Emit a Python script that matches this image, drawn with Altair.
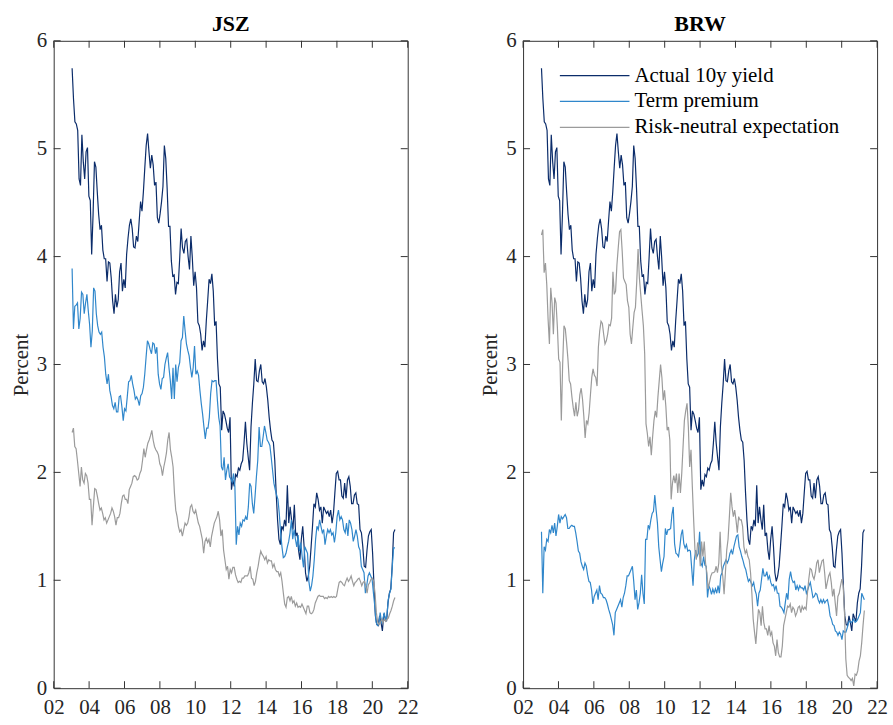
import altair as alt
import pandas as pd
import numpy as np

# ---------------- data ----------------
series_names = ["Actual 10y yield", "Term premium", "Risk-neutral expectation"]
series_colors = ["#0b2c6a", "#3087cb", "#9b9b9b"]

t_start = 2003.04
t_end = 2021.28

actual_yield = [5.745,5.46,5.25,5.23,5.17,4.72,4.66,5.13,4.88,4.72,4.97,5.01,4.56,4.52,4.02,4.39,4.88,4.83,4.60,4.39,4.25,4.29,4.06,3.98,3.98,3.77,3.95,3.94,3.80,3.59,3.47,3.65,3.53,3.60,3.86,3.94,3.68,3.79,3.71,4.02,4.17,4.29,4.35,4.26,4.09,4.08,4.19,4.14,4.33,4.51,4.42,4.60,4.82,5.03,5.14,4.97,4.82,4.94,4.85,4.66,4.69,4.36,4.31,4.40,4.51,4.65,5.03,4.91,4.63,4.28,4.28,3.96,3.82,3.83,3.65,3.76,3.75,3.99,4.26,4.08,4.03,4.14,4.16,4.00,3.88,4.19,3.99,3.73,3.86,3.71,3.39,3.36,3.28,3.13,3.22,3.16,3.40,3.59,3.79,3.75,3.84,3.68,3.36,3.40,3.05,2.82,2.79,2.39,2.57,2.54,2.48,2.41,2.37,2.51,1.84,1.93,1.87,1.98,1.96,2.04,2.02,2.08,2.11,2.27,2.47,2.27,2.14,2.02,2.42,2.64,2.82,3.05,2.85,2.84,2.94,3.00,2.84,2.82,2.87,2.79,2.67,2.51,2.39,2.30,2.28,2.11,1.81,1.56,1.38,1.33,1.50,1.47,1.56,1.50,1.88,1.53,1.68,1.56,1.47,1.70,1.41,1.44,1.28,1.19,1.38,1.50,1.31,1.07,0.99,1.04,1.13,1.31,1.50,1.71,1.68,1.81,1.75,1.65,1.68,1.53,1.68,1.65,1.62,1.64,1.59,1.65,1.53,1.62,1.81,1.99,2.01,1.93,1.93,1.78,1.76,1.90,1.76,1.93,1.96,1.87,1.71,1.71,1.79,1.81,1.71,1.70,1.47,1.44,1.31,1.13,1.12,1.28,1.41,1.45,1.47,1.25,0.95,0.67,0.59,0.58,0.67,0.61,0.53,0.69,0.65,0.62,0.79,0.88,0.92,1.13,1.44,1.47]

jsz_term_premium = [3.89,3.33,3.54,3.55,3.57,3.33,3.43,3.67,3.65,3.47,3.57,3.65,3.50,3.37,3.16,3.31,3.71,3.68,3.47,3.36,3.30,3.28,3.30,3.16,3.07,2.91,2.82,2.91,2.76,2.70,2.62,2.59,2.65,2.56,2.56,2.70,2.71,2.61,2.48,2.59,2.57,2.70,2.84,2.85,2.90,2.82,2.76,2.68,2.70,2.67,2.62,2.71,2.73,2.79,2.91,3.07,3.22,3.19,3.14,3.10,3.20,3.19,3.10,3.16,2.91,2.82,2.77,2.87,2.88,3.00,3.06,3.11,2.97,2.85,2.68,2.97,2.68,3.00,2.84,2.97,3.02,3.22,3.25,3.45,3.31,3.19,3.13,3.08,2.97,2.88,2.97,3.17,2.91,2.94,2.90,2.76,2.64,2.54,2.42,2.31,2.41,2.41,2.51,2.73,2.85,2.84,2.85,2.85,2.67,2.51,2.43,2.05,2.02,2.14,1.93,2.02,2.08,1.96,1.94,1.91,1.99,1.87,1.33,1.50,1.42,1.53,1.50,1.56,1.55,1.59,1.56,1.68,1.90,1.87,1.71,1.62,1.78,1.96,2.11,2.42,2.24,2.24,2.33,2.43,2.37,2.30,2.28,2.25,2.14,2.02,1.90,1.84,1.79,1.75,1.62,1.44,1.31,1.21,1.22,1.25,1.31,1.36,1.44,1.56,1.38,1.47,1.38,1.31,1.42,1.27,1.35,1.22,1.12,1.31,1.28,1.25,0.99,0.90,0.95,1.04,1.19,1.38,1.50,1.47,1.56,1.50,1.44,1.47,1.33,1.41,1.47,1.44,1.47,1.42,1.44,1.35,1.44,1.59,1.65,1.56,1.59,1.56,1.47,1.44,1.53,1.41,1.56,1.53,1.47,1.36,1.41,1.47,1.41,1.31,1.28,1.13,1.10,1.07,0.88,0.95,1.04,1.07,1.04,1.01,0.88,0.76,0.61,0.58,0.59,0.70,0.61,0.64,0.70,0.62,0.67,0.82,0.88,0.92,1.13,1.30,1.30]

jsz_risk_neutral = [2.37,2.41,2.24,2.22,2.11,1.99,1.87,2.05,1.93,1.90,1.99,1.97,1.90,1.75,1.75,1.51,1.68,1.85,1.84,1.78,1.71,1.65,1.67,1.62,1.56,1.58,1.53,1.56,1.59,1.62,1.67,1.64,1.59,1.51,1.58,1.58,1.62,1.71,1.78,1.79,1.75,1.75,1.71,1.84,1.87,1.90,1.96,1.97,1.96,1.93,1.94,1.99,2.02,2.11,2.22,2.14,2.21,2.27,2.30,2.34,2.39,2.30,2.24,2.21,2.19,2.16,2.08,2.05,1.97,2.05,2.11,2.18,2.30,2.37,2.21,2.14,2.05,1.81,1.65,1.59,1.50,1.45,1.47,1.41,1.47,1.53,1.51,1.53,1.59,1.68,1.70,1.64,1.62,1.65,1.59,1.53,1.50,1.44,1.38,1.25,1.36,1.39,1.35,1.38,1.31,1.41,1.47,1.53,1.56,1.59,1.64,1.56,1.41,1.47,1.28,1.19,1.10,1.13,1.01,1.10,1.07,1.12,1.12,1.05,1.01,0.98,0.99,0.98,1.02,1.02,1.04,1.04,1.04,1.07,1.13,1.02,1.01,0.95,0.99,1.07,1.13,1.21,1.27,1.24,1.22,1.19,1.22,1.16,1.19,1.18,1.18,1.12,1.15,1.10,1.08,1.08,1.04,1.07,0.99,0.88,0.78,0.75,0.84,0.85,0.81,0.85,0.79,0.81,0.76,0.79,0.75,0.76,0.75,0.78,0.75,0.72,0.69,0.76,0.76,0.70,0.69,0.70,0.73,0.79,0.82,0.85,0.86,0.85,0.85,0.85,0.83,0.84,0.83,0.85,0.84,0.85,0.84,0.85,0.84,0.85,0.92,0.98,0.99,0.98,0.96,0.95,0.99,1.02,0.99,1.01,1.04,0.99,0.95,0.98,0.99,1.01,1.02,0.99,0.95,0.98,0.99,0.95,0.88,0.96,0.98,1.01,1.02,0.99,0.88,0.70,0.61,0.59,0.61,0.64,0.61,0.64,0.62,0.64,0.65,0.69,0.72,0.76,0.81,0.84]

brw_term_premium = [1.45,0.88,1.31,1.28,1.38,1.36,1.47,1.44,1.51,1.44,1.53,1.41,1.50,1.61,1.53,1.59,1.57,1.59,1.61,1.58,1.48,1.48,1.50,1.51,1.50,1.50,1.44,1.36,1.27,1.25,1.17,1.13,1.10,1.16,1.13,1.05,0.99,0.98,0.91,0.78,0.85,0.88,0.91,0.82,0.95,0.88,0.87,0.84,0.84,0.82,0.78,0.73,0.69,0.64,0.59,0.49,0.70,0.73,0.76,0.79,0.82,0.75,0.84,0.88,0.95,1.04,1.04,1.07,1.10,1.13,0.99,0.82,0.91,0.73,0.79,0.88,1.05,0.88,0.78,1.38,1.38,1.51,1.48,1.56,1.62,1.64,1.79,1.65,1.53,1.31,1.19,1.08,1.16,1.22,1.48,1.42,1.47,1.47,1.48,1.61,1.68,1.34,1.25,1.24,1.22,1.31,1.42,1.47,1.34,1.30,1.33,1.27,1.28,1.27,1.11,0.95,1.19,1.28,1.22,1.25,1.45,1.16,1.13,1.22,1.14,1.13,0.84,0.95,0.92,0.87,0.92,0.88,0.92,0.88,0.95,0.88,1.04,1.07,1.13,1.16,1.19,1.16,1.19,1.25,1.28,1.24,1.31,1.36,1.41,1.42,1.31,1.27,1.22,1.18,1.13,1.10,1.04,0.99,1.01,0.98,0.95,0.98,0.91,0.87,0.76,0.88,0.91,1.01,1.11,1.04,1.04,1.08,1.01,1.04,0.98,0.95,0.96,0.91,0.95,0.88,0.88,0.76,0.75,0.73,0.70,0.79,0.88,0.82,1.01,1.08,1.01,0.98,0.99,0.91,0.95,0.91,0.95,0.93,0.93,0.91,0.95,0.88,0.91,0.95,0.98,0.91,0.84,0.85,0.88,0.87,0.82,0.79,0.82,0.79,0.82,0.79,0.81,0.82,0.76,0.67,0.64,0.59,0.58,0.53,0.52,0.49,0.52,0.50,0.45,0.53,0.52,0.52,0.56,0.61,0.62,0.61,0.62,0.64,0.61,0.62,0.64,0.67,0.70,0.88,0.85,0.82]

brw_risk_neutral = [4.20,4.25,3.85,3.94,3.74,3.42,3.19,3.71,3.57,3.28,3.62,3.57,3.35,3.05,3.02,2.48,3.00,3.36,3.33,3.20,3.05,2.85,2.82,2.70,2.60,2.52,2.65,2.52,2.58,2.72,2.78,2.68,2.52,2.32,2.48,2.45,2.55,2.72,2.88,2.96,2.90,2.88,2.80,3.16,3.31,3.40,3.38,3.28,3.19,3.22,3.28,3.37,3.36,3.43,3.86,3.65,3.68,3.92,4.08,4.23,4.25,4.05,3.80,3.77,3.74,3.59,3.53,3.28,3.19,3.34,3.48,3.53,3.77,4.07,3.80,3.65,3.50,3.36,3.10,2.45,2.36,2.24,2.33,2.16,2.33,2.48,2.57,2.51,2.70,2.85,3.00,2.88,2.67,2.76,2.61,2.39,2.42,2.30,1.75,1.90,1.97,1.90,1.99,1.81,1.99,1.81,1.99,2.24,2.48,2.57,2.64,2.42,2.05,2.21,1.87,1.56,1.28,1.19,1.35,1.31,1.13,1.36,1.22,1.36,1.16,1.07,0.92,0.98,1.04,1.07,1.07,1.08,1.13,1.07,1.16,1.45,1.13,1.04,0.87,1.07,1.28,1.38,1.59,1.81,1.68,1.59,1.65,1.56,1.44,1.59,1.56,1.56,1.50,1.31,1.25,1.28,1.22,1.19,1.07,0.88,0.64,0.52,0.41,0.58,0.73,0.70,0.58,0.76,0.61,0.55,0.55,0.49,0.58,0.49,0.52,0.42,0.39,0.30,0.45,0.33,0.29,0.29,0.39,0.58,0.64,0.70,0.76,0.75,0.78,0.70,0.75,0.73,0.67,0.70,0.75,0.76,0.70,0.76,0.73,0.75,0.73,0.88,1.01,1.11,1.10,1.04,1.01,1.07,1.16,1.19,1.07,1.13,1.18,1.19,1.07,0.92,0.98,1.04,1.07,0.98,0.85,0.92,0.79,0.67,0.85,0.88,0.95,1.01,0.95,0.70,0.27,0.12,0.10,0.09,0.07,0.09,0.02,0.13,0.12,0.16,0.25,0.30,0.42,0.58,0.72]

x_ticks = [2002, 2004, 2006, 2008, 2010, 2012, 2014, 2016, 2018, 2020, 2022]
y_ticks = [0, 1, 2, 3, 4, 5, 6]

# ---------------- styling ----------------
W, H = 356, 651
FONT = "Liberation Serif"
AXC = "#333333"
TICK = 7


def long_frame(values_by_series):
    rows = []
    for name, vals in values_by_series:
        ts = np.linspace(t_start, t_end, len(vals))
        rows.append(pd.DataFrame({"t": ts, "v": vals, "s": name}))
    return pd.concat(rows, ignore_index=True)


def panel(title, tp, rn, with_legend):
    df = long_frame([(series_names[0], actual_yield),
                     (series_names[1], tp),
                     (series_names[2], rn)])
    xs = alt.Scale(domain=[2002, 2022], nice=False, zero=False)
    ys = alt.Scale(domain=[0, 6], nice=False)
    x_axis = alt.Axis(values=x_ticks, title=None, ticks=False, domain=False,
                      grid=False, labelPadding=8, labelFlush=False, labelOverlap=False,
                      labelExpr="slice(toString(datum.value), 2)")
    y_axis = alt.Axis(values=y_ticks, title="Percent", ticks=False, domain=False,
                      grid=False, labelPadding=7, titlePadding=5,
                      labelFlush=False, labelOverlap=False)
    lines = alt.Chart(df).mark_line(strokeWidth=1.2, clip=True).encode(
        x=alt.X("t:Q", scale=xs, axis=x_axis),
        y=alt.Y("v:Q", scale=ys, axis=y_axis),
        color=alt.Color("s:N", scale=alt.Scale(domain=series_names, range=series_colors),
                        legend=None),
    )
    ydf = pd.DataFrame({"v": y_ticks})
    xdf = pd.DataFrame({"t": x_ticks})
    tl = alt.Chart(ydf).mark_rule(color=AXC, strokeWidth=1).encode(
        y=alt.Y("v:Q", scale=ys, axis=y_axis), x=alt.value(0), x2=alt.value(TICK))
    tr = alt.Chart(ydf).mark_rule(color=AXC, strokeWidth=1).encode(
        y=alt.Y("v:Q", scale=ys, axis=y_axis), x=alt.value(W - TICK), x2=alt.value(W))
    tb = alt.Chart(xdf).mark_rule(color=AXC, strokeWidth=1).encode(
        x=alt.X("t:Q", scale=xs, axis=x_axis), y=alt.value(H - TICK), y2=alt.value(H))
    tt = alt.Chart(xdf).mark_rule(color=AXC, strokeWidth=1).encode(
        x=alt.X("t:Q", scale=xs, axis=x_axis), y=alt.value(0), y2=alt.value(TICK))
    layers = [lines, tl, tr, tb, tt]
    if with_legend:
        one = pd.DataFrame({"a": [0]})
        for i, (nm, col) in enumerate(zip(series_names, series_colors)):
            yy = 35 + 26 * i
            layers.append(alt.Chart(one).mark_rule(color=col, strokeWidth=1.2).encode(
                x=alt.value(37), x2=alt.value(107), y=alt.value(yy)))
            layers.append(alt.Chart(one).mark_text(
                align="left", baseline="middle", font=FONT, fontSize=21, color="#000000").encode(
                x=alt.value(112), y=alt.value(yy), text=alt.value(nm)))
    return alt.layer(*layers).properties(
        width=W, height=H,
        title=alt.TitleParams(title, fontSize=22, fontWeight="bold", font=FONT,
                              offset=-6, frame="group", color="#000000"))


left = panel("JSZ", jsz_term_premium, jsz_risk_neutral, False)
right = panel("BRW", brw_term_premium, brw_risk_neutral, True)

chart = alt.hconcat(left, right, spacing=61).properties(
    padding={"left": 10, "top": 10, "right": 5, "bottom": 5}
).configure(font=FONT).configure_view(
    stroke=AXC, strokeWidth=1
).configure_axis(
    labelFont=FONT, labelFontSize=21, labelColor="#262626",
    titleFont=FONT, titleFontSize=21, titleFontWeight="normal", titleColor="#262626"
)

chart.save("out.html", embed_options={"renderer": "svg", "actions": False})
